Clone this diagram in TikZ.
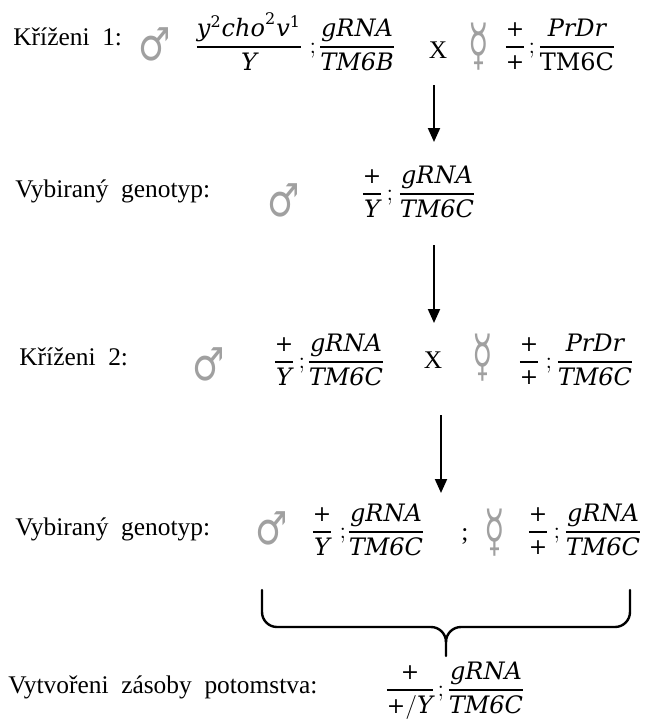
\documentclass[tikz,border=0pt]{standalone}
\usepackage{amsmath}
\usepackage{fontspec}
\setmainfont{Liberation Serif}
\newfontfamily\lblfont{Liberation Serif}
\newfontfamily\gmfont{DejaVu Serif}
\newfontfamily\symfont{DejaVu Sans}
\usetikzlibrary{arrows.meta}
\definecolor{symgray}{RGB}{160,160,160}
% genotype letters and fractions
\newcommand\gi[1]{\text{\gmfont\itshape #1}}
\newcommand\gu[1]{\text{\gmfont #1}}
\newcommand\gp{\text{\gmfont\fontsize{11}{11}\selectfont +}}
\newcommand\gfr[2]{{\nulldelimiterspace=0pt\genfrac{}{}{0.8pt}{0}{#1}{#2}}}
\newcommand\hermsym{\scalebox{0.8}[1.35]{☿}}
\newcommand\malesym{\scalebox{0.95}[1.2]{♂}}
\begin{document}
\begin{tikzpicture}[x=0.5pt,y=-0.5pt,
  lbl/.style={anchor=base west,inner sep=0,font=\lblfont\fontsize{12.7}{15}\selectfont},
  geno/.style={anchor=base,inner sep=0,font=\fontsize{12}{15}\selectfont},
  sep/.style={anchor=base,inner sep=0,font=\lblfont\fontsize{12.7}{15}\selectfont},
  male/.style={inner sep=0,text=symgray,font=\symfont\fontsize{19}{19}\selectfont},
  herm/.style={inner sep=0,text=symgray,font=\symfont\fontsize{21}{21}\selectfont},
  flow/.style={-{Triangle[length=7pt,width=6pt]},line width=1pt},
  bracestyle/.style={line width=1.2pt,line cap=round}]
\useasboundingbox (0,0) rectangle (645,720);

% --- cross 1
\node[lbl] (l1) at (13,45) {Kříženi\ \ 1:};
\node[male] (m1) at (155,44) {\malesym};
\node[geno] (f1a) at (249,53) {$\gfr{\gi{y}^{\gu{2}}\gi{cho}^{\gu{2}}\gi{v}^{\gu{1}}}{\gi{Y}}$};
\node[sep] (s1a) at (313,53) {$;$};
\node[geno] (f1b) at (357,53) {$\gfr{\gi{gRNA}}{\gi{TM6B}}$};
\node[sep] (x1) at (438,58) {X};
\node[herm] (h1) at (479,47) {\hermsym};
\node[geno] (f1c) at (515,53) {$\gfr{\gp}{\gp}$};
\node[sep] (s1b) at (532,53) {$;$};
\node[geno] (f1d) at (577,53) {$\gfr{\gi{PrDr}}{\gu{TM6C}}$};

% --- selected genotype
\node[lbl] (l2) at (15,197) {Vybiraný\ \ genotyp:};
\node[male] (m2) at (284,200) {\malesym};
\node[geno] (f2a) at (372,200) {$\gfr{\gp}{\gi{Y}}$};
\node[sep] (s2) at (390,200) {$;$};
\node[geno] (f2b) at (437,200) {$\gfr{\gi{gRNA}}{\gi{TM6C}}$};

% --- cross 2
\node[lbl] (l3) at (19,365) {Kříženi\ \ 2:};
\node[male] (m3) at (209,364) {\malesym};
\node[geno] (f3a) at (284,368) {$\gfr{\gp}{\gi{Y}}$};
\node[sep] (s3a) at (302,368) {$;$};
\node[geno] (f3b) at (346,368) {$\gfr{\gi{gRNA}}{\gi{TM6C}}$};
\node[sep] (x3) at (433,368) {X};
\node[herm] (h3) at (483,358) {\hermsym};
\node[geno] (f3c) at (529,368) {$\gfr{\gp}{\gp}$};
\node[sep] (s3b) at (549,368) {$;$};
\node[geno] (f3d) at (595,368) {$\gfr{\gi{PrDr}}{\gi{TM6C}}$};

% --- selected genotypes of both sexes
\node[lbl] (l4) at (15,535) {Vybiraný\ \ genotyp:};
\node[male] (m4) at (272,528) {\malesym};
\node[geno] (f4a) at (322,538) {$\gfr{\gp}{\gi{Y}}$};
\node[sep] (s4a) at (343,538) {$;$};
\node[geno] (f4b) at (386,538) {$\gfr{\gi{gRNA}}{\gi{TM6C}}$};
\node[sep] (s4m) at (465,540) {;};
\node[herm] (h4) at (495,533) {\hermsym};
\node[geno] (f4c) at (538,538) {$\gfr{\gp}{\gp}$};
\node[sep] (s4b) at (557,538) {$;$};
\node[geno] (f4d) at (603,538) {$\gfr{\gi{gRNA}}{\gi{TM6C}}$};

% --- stock
\node[lbl] (l5) at (8,693) {Vytvořeni\ \ zásoby\ \ potomstva:};
\node[geno] (f5a) at (410,696) {$\gfr{\gp}{\gp/\gi{Y}}$};
\node[sep] (s5) at (441,696) {$;$};
\node[geno] (f5b) at (486,696) {$\gfr{\gi{gRNA}}{\gi{TM6C}}$};

% --- arrows between the steps
\coordinate (a1s) at (434,85);
\coordinate (a1e) at (434,142);
\coordinate (a2s) at (434,245);
\coordinate (a2e) at (434,323);
\coordinate (a3s) at (441,415);
\coordinate (a3e) at (441,493);
\draw[flow] (a1s) -- (a1e);
\draw[flow] (a2s) -- (a2e);
\draw[flow] (a3s) -- (a3e);

% --- brace joining both parents
\coordinate (bl) at (262,590);
\coordinate (br) at (630,590);
\coordinate (bm) at (446,642);
\coordinate (bt) at (446,656);
\draw[bracestyle] (bl) -- (262,612) to[out=-90,in=180] (277,627) -- (431,627) to[out=0,in=90] (bm) -- (bt);
\draw[bracestyle] (bm) to[out=90,in=180] (461,627) -- (615,627) to[out=0,in=-90] (630,612) -- (br);
\end{tikzpicture}
\end{document}
